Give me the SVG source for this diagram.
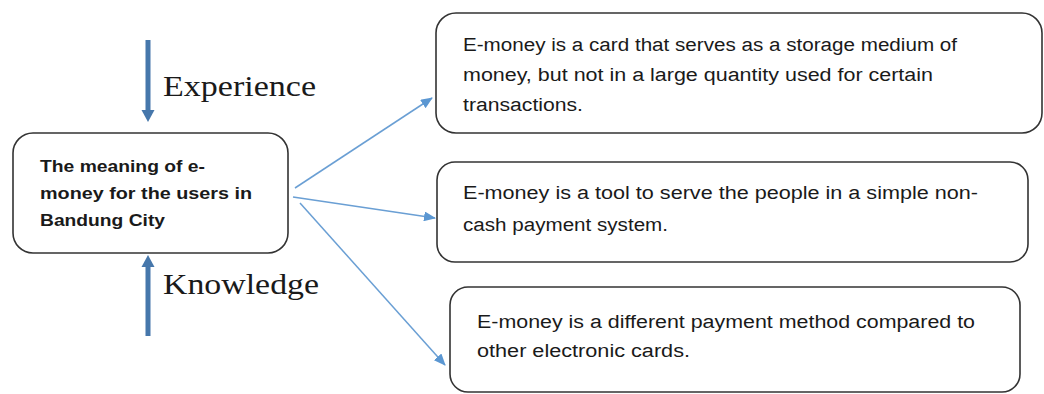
<svg xmlns="http://www.w3.org/2000/svg" width="1044" height="394" viewBox="0 0 1044 394">
<style>
.box{fill:#fff;stroke:#333;stroke-width:1.6}
.t{font-family:"Liberation Sans",Arial,sans-serif;font-size:18px;fill:#1a1a1a}
.tb{font-family:"Liberation Sans",Arial,sans-serif;font-size:17px;font-weight:bold;fill:#1a1a1a}
.serif{font-family:"Liberation Serif","Times New Roman",serif;font-size:30px;fill:#1a1a1a}
.conn{stroke:#6a9fd4;stroke-width:1.5;fill:none}
.thick{fill:#4677ab}
</style>
<defs>
<marker id="ah" viewBox="0 0 12 10" refX="11" refY="5" markerWidth="12" markerHeight="10" markerUnits="userSpaceOnUse" orient="auto">
<path d="M0,0 L12,5 L0,10 z" fill="#5b97d2"/>
</marker>
</defs>
<rect width="1044" height="394" fill="#fff"/>
<g id="experience">
<rect class="thick" x="145.5" y="40" width="5" height="71"/>
<path class="thick" d="M141.5,110 L154.5,110 L148,122 z"/>
<text class="serif" x="163" y="96" textLength="153" lengthAdjust="spacingAndGlyphs">Experience</text>
</g>
<g id="knowledge">
<rect class="thick" x="145.5" y="266" width="5" height="70"/>
<path class="thick" d="M141.5,267 L154.5,267 L148,255 z"/>
<text class="serif" x="163" y="294" textLength="156" lengthAdjust="spacingAndGlyphs">Knowledge</text>
</g>
<g id="center">
<rect class="box" x="13" y="133" width="275" height="120" rx="20"/>
<text class="tb" x="40" y="172" textLength="165" lengthAdjust="spacingAndGlyphs">The meaning of e-</text>
<text class="tb" x="40" y="199" textLength="212" lengthAdjust="spacingAndGlyphs">money for the users in</text>
<text class="tb" x="40" y="226" textLength="125" lengthAdjust="spacingAndGlyphs">Bandung City</text>
</g>
<g id="connectors">
<line class="conn" x1="295" y1="188" x2="432" y2="98" marker-end="url(#ah)"/>
<line class="conn" x1="293" y1="197" x2="435" y2="218" marker-end="url(#ah)"/>
<line class="conn" x1="300" y1="203" x2="445" y2="365" marker-end="url(#ah)"/>
</g>
<g id="def1">
<rect class="box" x="436" y="13" width="606" height="120" rx="20"/>
<text class="t" x="463" y="51" textLength="494" lengthAdjust="spacingAndGlyphs">E-money is a card that serves as a storage medium of</text>
<text class="t" x="463" y="81" textLength="470" lengthAdjust="spacingAndGlyphs">money, but not in a large quantity used for certain</text>
<text class="t" x="463" y="111" textLength="120" lengthAdjust="spacingAndGlyphs">transactions.</text>
</g>
<g id="def2">
<rect class="box" x="437" y="162" width="591" height="100" rx="18"/>
<text class="t" x="463" y="199" textLength="515" lengthAdjust="spacingAndGlyphs">E-money is a tool to serve the people in a simple non-</text>
<text class="t" x="463" y="231" textLength="205" lengthAdjust="spacingAndGlyphs">cash payment system.</text>
</g>
<g id="def3">
<rect class="box" x="450" y="287" width="570" height="105" rx="18"/>
<text class="t" x="477" y="328" textLength="498" lengthAdjust="spacingAndGlyphs">E-money is a different payment method compared to</text>
<text class="t" x="477" y="357" textLength="213" lengthAdjust="spacingAndGlyphs">other electronic cards.</text>
</g>
</svg>
